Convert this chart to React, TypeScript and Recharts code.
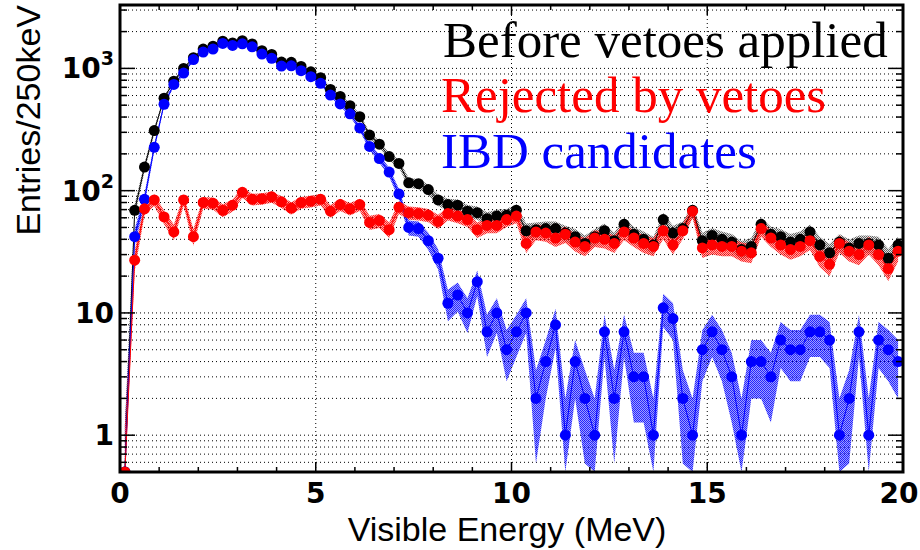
import React from 'react';
import { ComposedChart, Line, Area, XAxis, YAxis, CartesianGrid, ReferenceLine } from 'recharts';

// bin centres of the visible energy, 250 keV bins (MeV)
const energy = [
  0.125, 0.375, 0.625, 0.875, 1.125, 1.375, 1.625, 1.875, 2.125, 2.375,
  2.625, 2.875, 3.125, 3.375, 3.625, 3.875, 4.125, 4.375, 4.625, 4.875,
  5.125, 5.375, 5.625, 5.875, 6.125, 6.375, 6.625, 6.875, 7.125, 7.375,
  7.625, 7.875, 8.125, 8.375, 8.625, 8.875, 9.125, 9.375, 9.625, 9.875,
  10.125, 10.375, 10.625, 10.875, 11.125, 11.375, 11.625, 11.875, 12.125, 12.375,
  12.625, 12.875, 13.125, 13.375, 13.625, 13.875, 14.125, 14.375, 14.625, 14.875,
  15.125, 15.375, 15.625, 15.875, 16.125, 16.375, 16.625, 16.875, 17.125, 17.375,
  17.625, 17.875, 18.125, 18.375, 18.625, 18.875, 19.125, 19.375, 19.625, 19.875,
];

const beforeVetoes = [
  0.5, 69, 156, 310, 570, 785, 1000, 1222, 1440, 1520,
  1669, 1616, 1687, 1585, 1396, 1299, 1126, 1122, 1038, 937,
  840, 673, 589, 496, 403, 285, 240, 190, 167, 116,
  114, 102, 84, 77, 76, 68, 66, 59, 62, 63,
  69, 47, 48, 49, 49, 45, 42, 37, 42, 47,
  39, 53, 44, 40, 36, 58, 45, 49, 69, 39,
  43, 40, 38, 33, 35, 53, 44, 42, 38, 40,
  46, 36, 31, 38, 34, 37, 37, 36, 28, 36,
];

const rejected = [
  0.5, 27, 71, 84, 61, 46, 84, 42, 80, 79,
  69, 76, 97, 85, 86, 89, 81, 72, 80, 82,
  85, 68, 77, 71, 77, 55, 57, 48, 73, 66,
  65, 63, 56, 65, 62, 58, 48, 52, 52, 58,
  62, 37, 46, 45, 41, 44, 38, 35, 41, 40,
  37, 46, 41, 37, 35, 47, 36, 47, 68, 34,
  36, 35, 35, 32, 31, 49, 41, 36, 33, 35,
  39, 29, 25, 37, 32, 30, 36, 30, 23, 32,
];

const ibd = [
  0.5, 42, 85, 226, 509, 739, 916, 1180, 1360, 1441,
  1600, 1540, 1590, 1500, 1310, 1210, 1045, 1050, 958, 855,
  755, 605, 512, 425, 326, 230, 183, 142, 94, 50,
  49, 39, 28, 12, 14, 10, 18, 7, 10, 5,
  7, 10, 2, 4, 8, 1, 4, 2, 1, 7,
  2, 7, 3, 3, 1, 11, 9, 2, 1, 5,
  7, 5, 3, 1, 4, 4, 3, 6, 5, 5,
  7, 7, 6, 1, 2, 7, 1, 6, 5, 4,
];

const xTicks = [0, 1, 2, 3, 4, 5, 6, 7, 8, 9, 10, 11, 12, 13, 14, 15, 16, 17, 18, 19, 20];
const xLabels = [0, 5, 10, 15, 20];
const yTicks = [
  0.6, 0.7, 0.8, 0.9,
  1, 2, 3, 4, 5, 6, 7, 8, 9,
  10, 20, 30, 40, 50, 60, 70, 80, 90,
  100, 200, 300, 400, 500, 600, 700, 800, 900,
  1000, 2000, 3000,
];
const yLabels: Record<number, [string, string]> = { 1: ['1', ''], 10: ['10', ''], 100: ['10', '2'], 1000: ['10', '3'] };

const Y_MIN = 0.5;
const Y_MAX = 3300;

// poisson error band, clipped at the axis floor
const band = (v: number): [number, number] => [Math.max(v - Math.sqrt(v), Y_MIN), v + Math.sqrt(v)];

const data = energy.map((e, i) => ({
  e,
  before: beforeVetoes[i],
  rejected: rejected[i],
  ibd: ibd[i],
  beforeBand: band(beforeVetoes[i]),
  rejectedBand: band(rejected[i]),
  ibdBand: band(ibd[i]),
}));

const tickFont = { fontFamily: 'DejaVu Sans', fontWeight: 'bold' as const, fontSize: 28, fill: '#000' };

const LeftTick = (props: any) => {
  const { x, y, payload } = props;
  const v = payload.value;
  const lab = yLabels[v];
  const len = lab ? 15 : 7;
  return (
    <g>
      <line x1={x} x2={x + len} y1={y} y2={y} stroke="#000" strokeWidth={1.5} />
      {lab && (
        <text x={x - 6} y={y + 10} textAnchor="end" {...tickFont}>
          {lab[0]}
          {lab[1] && (
            <tspan dy={-13} fontSize={19}>
              {lab[1]}
            </tspan>
          )}
        </text>
      )}
    </g>
  );
};

const RightTick = (props: any) => {
  const { x, y, payload } = props;
  const len = yLabels[payload.value] ? 15 : 7;
  return <line x1={x} x2={x - len} y1={y} y2={y} stroke="#000" strokeWidth={1.5} />;
};

const BottomTick = (props: any) => {
  const { x, y, payload } = props;
  const major = xLabels.includes(payload.value);
  const last = payload.value === 20;
  return (
    <g>
      <line x1={x} x2={x} y1={y} y2={y - (major ? 10 : 5)} stroke="#000" strokeWidth={1.5} />
      {major && (
        <text x={last ? x - 4 : x} y={y + 31} textAnchor="middle" {...tickFont}>
          {payload.value}
        </text>
      )}
    </g>
  );
};

const TopTick = (props: any) => {
  const { x, y, payload } = props;
  const major = xLabels.includes(payload.value);
  return <line x1={x} x2={x} y1={y} y2={y + (major ? 10 : 5)} stroke="#000" strokeWidth={1.5} />;
};

const grid = { stroke: '#000', strokeDasharray: '1 3', strokeWidth: 1 };
const dotR = 5.5;

export default function App() {
  return (
    <div style={{ position: 'absolute', left: 0, top: 0, width: 920, height: 550, background: '#fff' }}>
      <ComposedChart width={920} height={550} data={data} margin={{ top: 4, right: 16, bottom: 77, left: 0 }}>
        <defs>
          <pattern id="hatchBlack" width="2" height="2" patternUnits="userSpaceOnUse">
            <rect width="2" height="2" fill="#000" fillOpacity={0.2} />
            <rect width="1" height="1" fill="#000" />
            <rect x="1" y="1" width="1" height="1" fill="#000" />
          </pattern>
          <pattern id="hatchRed" width="2" height="2" patternUnits="userSpaceOnUse">
            <rect width="2" height="2" fill="#ff0000" fillOpacity={0.4} />
            <rect width="1" height="1" fill="#ff0000" />
            <rect x="1" y="1" width="1" height="1" fill="#ff0000" />
          </pattern>
          <pattern id="hatchBlue" width="2" height="2" patternUnits="userSpaceOnUse">
            <rect width="2" height="2" fill="#0000ff" fillOpacity={0.45} />
            <rect width="1" height="1" fill="#0000ff" />
            <rect x="1" y="1" width="1" height="1" fill="#0000ff" />
          </pattern>
        </defs>
        <CartesianGrid vertical={false} {...grid} />
        {xLabels.slice(1, -1).map((v) => (
          <ReferenceLine key={v} x={v} {...grid} />
        ))}
        <XAxis
          dataKey="e"
          type="number"
          domain={[0, 20]}
          ticks={xTicks}
          interval={0}
          height={1}
          axisLine={false}
          tickLine={false}
          tickSize={0}
          tickMargin={0}
          tick={BottomTick}
        />
        <XAxis
          xAxisId="top"
          orientation="top"
          dataKey="e"
          type="number"
          domain={[0, 20]}
          ticks={xTicks}
          interval={0}
          height={1}
          axisLine={false}
          tickLine={false}
          tickSize={0}
          tickMargin={0}
          tick={TopTick}
        />
        <YAxis
          type="number"
          scale="log"
          domain={[Y_MIN, Y_MAX]}
          allowDataOverflow
          ticks={yTicks}
          interval={0}
          width={120}
          axisLine={false}
          tickLine={false}
          tickSize={0}
          tickMargin={0}
          tick={LeftTick}
        />
        <YAxis
          yAxisId="right"
          orientation="right"
          type="number"
          scale="log"
          domain={[Y_MIN, Y_MAX]}
          allowDataOverflow
          ticks={yTicks}
          interval={0}
          width={1}
          axisLine={false}
          tickLine={false}
          tickSize={0}
          tickMargin={0}
          tick={RightTick}
        />
        <Area dataKey="beforeBand" type="linear" stroke="none" fill="url(#hatchBlack)" fillOpacity={0.6} isAnimationActive={false} />
        <Line dataKey="before" type="linear" stroke="#000" strokeWidth={1} dot={{ r: dotR, fill: '#000', stroke: 'none' }} isAnimationActive={false} />
        <Area dataKey="ibdBand" type="linear" stroke="none" fill="url(#hatchBlue)" fillOpacity={0.85} isAnimationActive={false} />
        <Line dataKey="ibd" type="linear" stroke="#0000ff" strokeWidth={1} dot={{ r: dotR, fill: '#0000ff', stroke: 'none' }} isAnimationActive={false} />
        <Area dataKey="rejectedBand" type="linear" stroke="none" fill="url(#hatchRed)" fillOpacity={0.85} isAnimationActive={false} />
        <Line dataKey="rejected" type="linear" stroke="#ff0000" strokeWidth={1} dot={{ r: dotR, fill: '#ff0000', stroke: 'none' }} isAnimationActive={false} />
      </ComposedChart>
      <svg width={920} height={550} style={{ position: 'absolute', left: 0, top: 0, pointerEvents: 'none' }}>
        <rect x={120} y={5} width={783} height={467} fill="none" stroke="#000" strokeWidth={3} />
        <g fontFamily="Liberation Serif" fontSize={51}>
          <text x={443} y={57} fill="#000">Before vetoes applied</text>
          <text x={441} y={112} fill="#ff0000">Rejected by vetoes</text>
          <text x={441} y={168} fill="#0000ff">IBD candidates</text>
        </g>
        <text x={507} y={541} textAnchor="middle" fontFamily="Liberation Sans" fontSize={34} fill="#000">
          Visible Energy (MeV)
        </text>
        <text
          transform="translate(40,5) rotate(-90)"
          textAnchor="end"
          fontFamily="Liberation Sans"
          fontSize={34}
          fill="#000"
        >
          Entries/250keV
        </text>
      </svg>
    </div>
  );
}
